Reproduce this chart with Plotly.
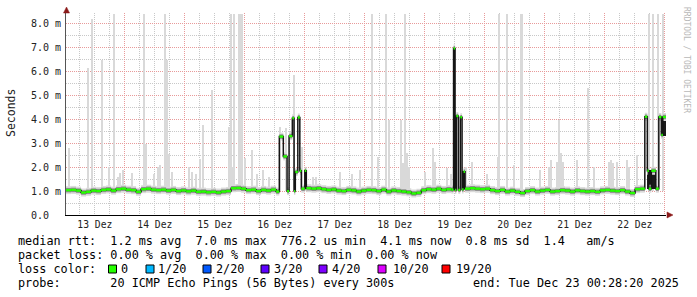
import pandas as pd
import plotly.graph_objects as go

W, H = 697, 297
ML, MR, MT, MB = 66, 31, 13, 82
PW, PH = W - ML - MR, H - MT - MB

def px(x):
    return (x - ML) / PW

def py(y):
    return (H - MB - y) / PH

T0 = pd.Timestamp("2025-12-13 00:00:00")
START = pd.Timestamp("2025-12-13 00:28:20")
END = pd.Timestamp("2025-12-23 00:28:20")
END_H = (END - T0) / pd.Timedelta(hours=1)

def ts(h):
    return T0 + pd.to_timedelta(h, unit="h")

# ---------------- data (hours since 13 Dez 00:00, values in ms) ----------------
# median rtt: start of each consolidation bin and its median value
med_hours = [
    0.47, 2.5, 4.5, 6.5, 8.5, 10.5, 12.5, 14.5, 16.5, 18.5, 20.5, 22.5, 24.5, 26.5,
    28.5, 30.5, 32.5, 34.5, 36.5, 38.5, 40.5, 42.5, 44.5, 46.5, 48.5, 50.5, 52.5,
    54.5, 56.5, 58.5, 60.5, 62.5, 64.5, 66.5, 68.5, 70.5, 72.5, 74.5, 76.5, 78.5,
    80.5, 82.5, 84.5,
    85.8, 87.4, 88.9, 89.7, 91.0, 91.7, 92.2, 93.2, 94.0, 94.6, 96.0, 96.6,
    98.6, 100.6, 102.6, 104.6, 106.6, 108.6, 110.6, 112.6, 114.6, 116.6, 118.6,
    120.6, 122.6, 124.6, 126.6, 128.6, 130.6, 132.6, 134.6, 136.6, 138.6, 140.6,
    142.6, 144.6, 146.6, 148.6, 150.6, 152.6, 154.6,
    155.5, 156.1, 156.6, 157.4, 158.2, 158.9, 159.5, 160.1,
    162.1, 164.1, 166.1, 168.1, 170.1, 172.1, 174.1, 176.1, 178.1, 180.1, 182.1,
    184.1, 186.1, 188.1, 190.1, 192.1, 194.1, 196.1, 198.1, 200.1, 202.1, 204.1,
    206.1, 208.1, 210.1, 212.1, 214.1, 216.1, 218.1, 220.1, 222.1, 224.1, 226.1,
    228.1, 230.1,
    232.0, 233.0, 233.6, 234.6, 236.4, 237.6, 238.6, 239.2,
]
med_ms = [
    1.04, 1.05, 1.02, 0.94, 0.97, 1.02, 1.00, 1.05, 1.07, 1.02, 1.08, 1.10, 1.06, 1.04,
    0.97, 1.08, 1.10, 1.06, 1.04, 1.06, 1.02, 1.05, 1.00, 1.03, 0.99, 1.02, 0.97,
    0.98, 0.95, 0.97, 0.94, 0.98, 1.00, 1.12, 1.13, 1.10, 1.04, 1.06, 1.00, 1.05,
    1.02, 1.06, 0.98,
    3.28, 2.45, 1.00, 3.30, 4.05, 1.00, 1.80, 4.08, 1.85, 1.10, 1.85, 1.12,
    1.10, 1.12, 1.08, 1.05, 1.07, 1.02, 1.00, 1.05, 1.03, 0.98, 1.02,
    1.05, 1.04, 1.00, 1.06, 0.98, 1.03, 1.00, 0.98, 0.95, 0.90, 0.93,
    1.04, 1.08, 1.06, 1.10, 1.05, 1.08, 1.06,
    6.97, 1.05, 4.14, 1.05, 4.09, 1.07, 1.81, 1.10,
    1.12, 1.10, 1.08, 1.10, 1.04, 1.00, 1.05, 0.98, 1.02, 0.97, 0.92,
    1.00, 1.04, 0.98, 1.02, 1.05, 0.98, 1.00, 1.04, 1.02, 0.98, 1.03,
    1.00, 0.98, 1.00, 0.97, 1.03, 1.05, 1.02, 1.00, 1.04, 0.98, 0.92,
    1.08, 1.10,
    4.11, 1.85, 1.10, 1.85, 1.10, 4.10, 3.35, 4.10,
]

# dense smoke blocks (start hour, end hour, low ms, high ms)
blk_start = [233.0, 234.6, 238.6]
blk_end = [234.6, 236.4, 240.47]
blk_lo = [1.10, 1.10, 3.30]
blk_hi = [1.90, 1.90, 4.10]

# single outlier pings (light smoke): hour and top value in ms
spike_hours = [
    1.67, 9.35, 10.71, 15.03, 17.75, 19.87, 21.27, 22.19, 23.11, 26.79, 31.79, 32.67,
    35.67, 37.19, 38.27, 40.07, 40.99, 41.59, 42.87, 49.75, 50.75, 52.47, 54.07,
    55.11, 58.99, 65.83, 66.47, 67.35, 67.75, 69.55, 70.15, 70.75, 72.07, 74.75,
    76.71, 79.47, 81.79, 86.07, 88.67, 91.87, 94.87, 96.47, 99.15, 100.47, 110.07,
    114.87, 118.07, 122.99, 125.27, 128.31, 129.83, 134.47, 135.47, 135.95, 136.71,
    137.79, 144.07, 147.43, 148.19, 152.99, 154.35, 160.47, 162.99, 168.75, 173.27,
    173.79, 176.87, 179.59, 182.63, 183.07, 190.27, 193.67, 194.59, 196.71, 197.83,
    198.47, 199.15, 204.87, 209.43, 211.67, 217.55, 218.47, 219.27, 220.87, 224.71,
    225.79, 228.75, 233.67, 235.39, 237.39, 239.27,
]
spike_top = [
    2.8, 6.14, 8.2, 6.49, 2.02, 8.4, 1.6, 1.76, 1.88, 1.76, 8.4, 2.95,
    1.7, 2.0, 2.1, 8.4, 6.5, 2.55, 1.8, 2.0, 1.8, 1.7, 2.35,
    3.77, 5.23, 3.7, 8.4, 2.0, 8.4, 8.4, 8.4, 8.4, 2.37, 2.7,
    1.7, 1.9, 1.6, 3.7, 3.64, 5.86, 2.86, 1.88, 1.6, 1.6, 1.8,
    1.7, 1.9, 8.4, 2.44, 8.4, 3.97, 3.97, 2.17, 8.4, 2.6,
    2.0, 1.8, 2.8, 2.2, 1.97, 1.7, 2.0, 2.2, 1.7, 2.44,
    8.4, 8.4, 2.1, 8.4, 8.4, 1.88, 2.0, 2.3, 2.2, 3.97,
    2.6, 2.2, 2.3, 5.3, 2.0, 2.2, 2.3, 2.17, 2.2, 2.3,
    2.0, 2.5, 8.4, 8.4, 8.4, 8.4,
]

ytick_vals = [0, 1, 2, 3, 4, 5, 6, 7, 8]
ytick_text = ["0.0\u00a0\u00a0", "1.0 m", "2.0 m", "3.0 m", "4.0 m", "5.0 m",
              "6.0 m", "7.0 m", "8.0 m"]

stats_lines = [
    "median rtt:  1.2 ms avg  7.0 ms max  776.2 us min  4.1 ms now  0.8 ms sd  1.4   am/s",
    "packet loss: 0.00 % avg  0.00 % max  0.00 % min  0.00 % now",
    "probe:       20 ICMP Echo Pings (56 Bytes) every 300s",
]
end_text = "end: Tue Dec 23 00:28:20 2025"
loss_labels = ["0", "1/20", "2/20", "3/20", "4/20", "10/20", "19/20"]
loss_colors = ["#26ff00", "#00b8ff", "#0059ff", "#5e00ff", "#7e00ff", "#dd00ff", "#ff0000"]

# ---------------- build figure ----------------
MONO = "DejaVu Sans Mono"
edges = med_hours + [END_H]
line_x = [ts(h) for h in med_hours] + [END]
line_y = med_ms + [med_ms[-1]]

# one horizontal piece per bin, no vertical connections
seg_x, seg_y = [], []
for i, m in enumerate(med_ms):
    seg_x += [ts(edges[i]), ts(edges[i + 1]), None]
    seg_y += [m, m, None]

fig = go.Figure()

# outlier pings (bars are drawn beneath all line traces)
fig.add_trace(go.Bar(x=[ts(h) for h in spike_hours],
                     y=[t - 1.0 for t in spike_top], base=1.0,
                     width=0.4 * 3600000, marker=dict(color="#d9d9d9", line_width=0),
                     hoverinfo="skip"))
# dense smoke blocks
fig.add_trace(go.Bar(x=[ts((a + b) / 2) for a, b in zip(blk_start, blk_end)],
                     y=[h - l for l, h in zip(blk_lo, blk_hi)], base=blk_lo,
                     width=[(b - a) * 3600000 for a, b in zip(blk_start, blk_end)],
                     marker=dict(color="#1a1a1a", line_width=0), hoverinfo="skip"))
# light smoke haze around the median
fig.add_trace(go.Scatter(x=seg_x, y=seg_y, mode="lines", connectgaps=False,
                         line=dict(color="#dadada", width=8), hoverinfo="skip"))
# medium smoke
fig.add_trace(go.Scatter(x=seg_x, y=seg_y, mode="lines", connectgaps=False,
                         line=dict(color="#8c8c8c", width=4.5), hoverinfo="skip"))
# dark core of smoke (carries the jumps between bins)
fig.add_trace(go.Scatter(x=line_x, y=line_y, mode="lines", line_shape="hv",
                         line=dict(color="#151515", width=1.5), hoverinfo="skip"))
# median (loss colour = 0)
fig.add_trace(go.Scatter(x=seg_x, y=seg_y, mode="lines", connectgaps=False,
                         line=dict(color=loss_colors[0], width=2.4), hoverinfo="skip"))

annotations = []
annotations.append(dict(text="Seconds", x=px(11), y=py(113), xref="paper", yref="paper",
                        textangle=-90, showarrow=False, xanchor="center", yanchor="middle",
                        font=dict(family=MONO, size=11.5, color="#222")))
annotations.append(dict(text="RRDTOOL / TOBI OETIKER", x=px(687), y=py(60), xref="paper",
                        yref="paper", textangle=90, showarrow=False, xanchor="center",
                        yanchor="middle", font=dict(family=MONO, size=8, color="#b8b8b8")))
for txt, yy in zip(stats_lines, [240.7, 255.0, 283.3]):
    annotations.append(dict(text=txt.replace(" ", "\u00a0"), x=px(16), y=py(yy),
                            xref="paper", yref="paper", showarrow=False, xanchor="left",
                            yanchor="middle", font=dict(family=MONO, size=11.8, color="#000")))
annotations.append(dict(text=end_text.replace(" ", "\u00a0"), x=px(681), y=py(283.3),
                        xref="paper", yref="paper", showarrow=False, xanchor="right",
                        yanchor="middle", font=dict(family=MONO, size=11.8, color="#000")))
annotations.append(dict(text="loss\u00a0color:", x=px(16), y=py(269), xref="paper",
                        yref="paper", showarrow=False, xanchor="left", yanchor="middle",
                        font=dict(family=MONO, size=11.8, color="#000")))

sq_left = [108.5, 146, 203, 261, 319, 378, 442]
lab_left = [118.5, 156, 213.5, 271.5, 330, 391, 454]
shapes = []
for lab, col, sx, lx in zip(loss_labels, loss_colors, sq_left, lab_left):
    shapes.append(dict(type="rect", xref="paper", yref="paper", x0=px(sx), x1=px(sx + 8),
                       y0=py(273), y1=py(265), fillcolor=col,
                       line=dict(color="#000", width=1)))
    annotations.append(dict(text=lab, x=px(lx), y=py(269), xref="paper", yref="paper",
                            showarrow=False, xanchor="left", yanchor="middle",
                            font=dict(family=MONO, size=11.8, color="#000")))

# axis arrows
shapes.append(dict(type="path", xref="paper", yref="paper", xsizemode="pixel",
                   ysizemode="pixel", xanchor=px(667), yanchor=py(215),
                   path="M 0,-3 L 6,0 L 0,3 Z", fillcolor="#8b1a1a",
                   line=dict(color="#8b1a1a", width=0.5)))
shapes.append(dict(type="path", xref="paper", yref="paper", xsizemode="pixel",
                   ysizemode="pixel", xanchor=px(66.5), yanchor=py(13),
                   path="M -3,0 L 3,0 L 0,6 Z", fillcolor="#8b1a1a",
                   line=dict(color="#8b1a1a", width=0.5)))

fig.update_layout(
    width=W, height=H, margin=dict(l=ML, r=MR, t=MT, b=MB, pad=0),
    paper_bgcolor="#ffffff", plot_bgcolor="#ffffff",
    showlegend=False, barmode="overlay", bargap=0, hovermode=False,
    annotations=annotations, shapes=shapes,
    xaxis=dict(
        type="date", range=[START, END], tick0="2025-12-13", dtick=86400000,
        ticklabelmode="period", tickformat="%d Dez",
        showgrid=True, gridcolor="#e89a9a", griddash="1px,1px", gridwidth=1,
        minor=dict(dtick=6 * 3600000, tick0="2025-12-13", showgrid=True,
                   gridcolor="#c8c8c8", griddash="1px,1px", gridwidth=1),
        showline=True, linecolor="#000", linewidth=1, ticks="", zeroline=False,
        tickfont=dict(family=MONO, size=9.7, color="#222"),
    ),
    yaxis=dict(
        range=[0, 8.45], tickmode="array", tickvals=ytick_vals, ticktext=ytick_text,
        showgrid=True, gridcolor="#e89a9a", griddash="1px,1px", gridwidth=1,
        minor=dict(tickmode="linear", tick0=0, dtick=0.5, showgrid=True,
                   gridcolor="#c8c8c8", griddash="1px,1px", gridwidth=1),
        showline=True, linecolor="#555", linewidth=1, ticks="", zeroline=False,
        ticklabelstandoff=2,
        tickfont=dict(family=MONO, size=10, color="#222"),
    ),
)

fig.write_html("out.html")
